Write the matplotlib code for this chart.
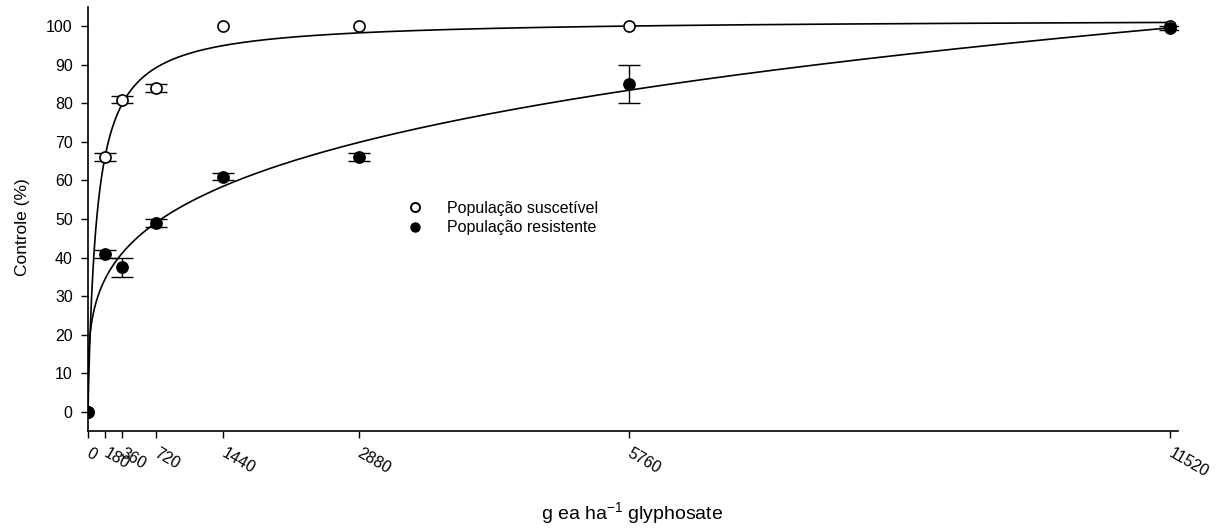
import numpy as np
import matplotlib
matplotlib.use("Agg")
import matplotlib.pyplot as plt
from matplotlib.lines import Line2D

plt.rcParams['font.family'] = ['Liberation Sans', 'DejaVu Sans']
plt.rcParams['mathtext.fontset'] = 'custom'
plt.rcParams['mathtext.rm'] = 'Liberation Sans'

doses = [0, 180, 360, 720, 1440, 2880, 5760, 11520]
tick_labels = ["0", "180", "360", "720", "1440", "2880", "5760", "11520"]

susc_mean = [0, 66, 81, 84, 100, 100, 100, 100]
susc_err = [0, 1, 1, 1, 0, 0, 0, 0]
res_mean = [0, 41, 37.5, 49, 61, 66, 85, 99.5]
res_err = [0, 1, 2.5, 1, 1, 1, 5, 0.5]

# fitted curve parameters (log-logistic for susceptible, power model for resistant)
susc_fit_a, susc_fit_b, susc_fit_c = 102.0, 96.0, 0.963
res_fit_k, res_fit_c = 9.09, 0.256

fig = plt.figure(figsize=(12.23, 5.30), dpi=100)
ax = fig.add_axes([88/1223, 1-431/530, (1178-88)/1223, (431-7)/530])

xs = np.concatenate([[0], np.geomspace(0.05, 11520, 4000)])
ys = np.where(xs > 0, susc_fit_a / (1 + (susc_fit_b / np.maximum(xs, 1e-9)) ** susc_fit_c), 0)
yr = res_fit_k * xs ** res_fit_c
ax.plot(xs, ys, color='black', lw=1.2, zorder=2)
ax.plot(xs, yr, color='black', lw=1.2, zorder=2)


def draw_series(mean, err, filled, z):
    d = np.array(doses, dtype=float)
    m = np.array(mean, dtype=float)
    e = np.array(err, dtype=float)
    sel = e > 0
    ax.errorbar(d[sel], m[sel], yerr=e[sel], fmt='none', ecolor='black', elinewidth=1.0,
                capsize=8, capthick=1.0, zorder=z)
    ax.plot(d, m, 'o', ls='none', mfc='black' if filled else 'white', mec='black',
            mew=1.2, ms=8, zorder=z + 0.5)


draw_series(susc_mean, susc_err, False, 3)
draw_series(res_mean, res_err, True, 5)

ax.set_xlim(0, 11605)
ax.set_ylim(-5, 105)
ax.set_yticks(range(0, 101, 10))
ax.set_xticks(doses)
ax.set_xticklabels(tick_labels, rotation=-30, ha='left', va='center', rotation_mode='anchor')
for s in ['top', 'right']:
    ax.spines[s].set_visible(False)
for s in ['left', 'bottom']:
    ax.spines[s].set_linewidth(1.2)
ax.tick_params(direction='out', length=5, width=1.0, labelsize=11.5, color='black')
ax.tick_params(axis='y', pad=6)
ax.tick_params(axis='x', pad=10)

ax.set_ylabel('Controle (%)', fontsize=12.5)
ax.yaxis.set_label_coords(-0.053, 0.48)
fig.text(632/1223, 1-514/530, r'g ea ha$^{\mathregular{-1}}$ glyphosate', fontsize=14,
         ha='center', va='center')

h1 = Line2D([], [], marker='o', ls='none', mfc='white', mec='black', mew=1.4, ms=6.5)
h2 = Line2D([], [], marker='o', ls='none', mfc='black', mec='black', ms=6.5)
ax.legend([h1, h2], ['População suscetível', 'População resistente'], frameon=False,
          loc='center left', bbox_to_anchor=(397/1223, 1-218/530), bbox_transform=fig.transFigure,
          fontsize=11.5, handletextpad=1.45, labelspacing=0.3, handlelength=1.2, borderpad=0)

fig.savefig('out.png', dpi=100)
